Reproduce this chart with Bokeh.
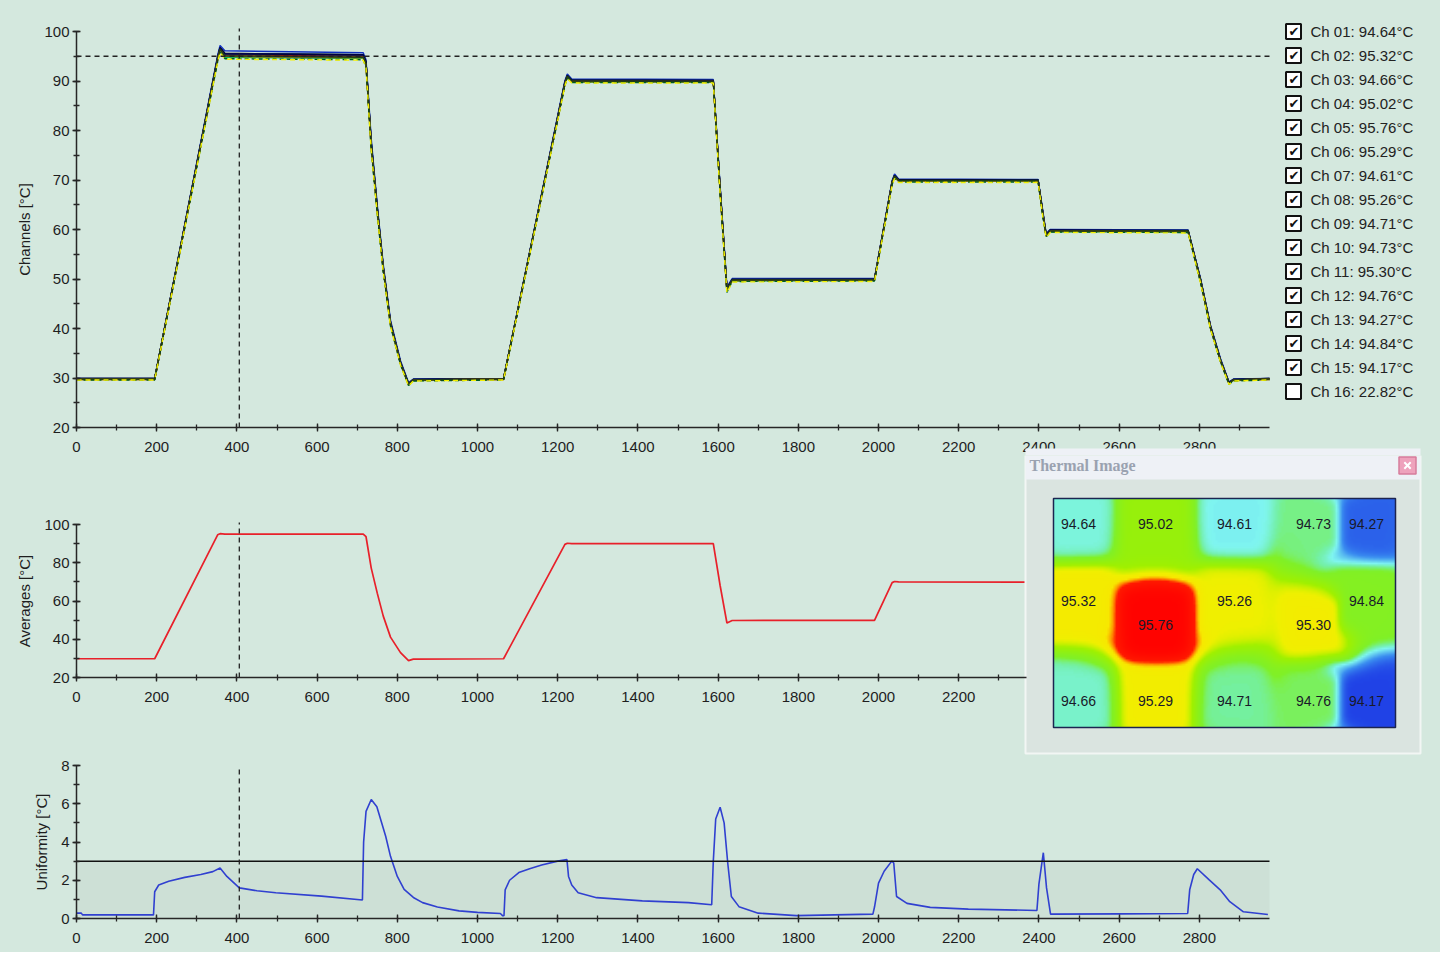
import numpy as np
from bokeh.plotting import figure
from bokeh.layouts import column
from bokeh.models import Range1d, SingleIntervalTicker, BoxAnnotation, LinearColorMapper
from bokeh.core.properties import value
from bokeh.embed import file_html
from bokeh.resources import INLINE

# ---------------- data ----------------
T = [0, 195, 352, 358, 370, 715, 722, 735, 750, 765, 783, 808, 828, 840, 1065, 1218, 1224, 1235,
     1588, 1605, 1622, 1635, 1990, 2034, 2040, 2050, 2398, 2410, 2418, 2428, 2772, 2803, 2828,
     2853, 2874, 2885, 2975]

ch01 = [29.8, 29.8, 94.2, 96.3, 94.9, 94.6, 93.2, 76.5, 63.6, 51.8, 40.8, 32.9, 28.7, 29.6, 29.8, 89.3, 90.8, 89.9, 89.8, 67.6, 47.6, 49.7, 49.8, 69.3, 70.6, 69.8, 69.8, 62.8, 58.7, 59.7, 59.6, 49.5, 40.0, 33.4, 28.9, 29.6, 29.8]
ch02 = [29.9, 29.9, 94.8, 96.8, 95.6, 95.3, 93.9, 77.6, 64.5, 52.4, 41.3, 33.2, 28.9, 29.7, 29.9, 89.8, 91.2, 90.2, 90.1, 68.4, 48.1, 49.9, 50.0, 69.7, 71.0, 70.1, 70.0, 63.3, 59.0, 59.9, 59.8, 49.9, 40.4, 33.7, 29.1, 29.7, 29.9]
ch03 = [29.7, 29.7, 94.3, 96.2, 94.9, 94.7, 93.3, 76.8, 63.8, 51.9, 40.9, 32.9, 28.6, 29.5, 29.7, 89.4, 90.9, 89.9, 89.8, 67.8, 47.7, 49.6, 49.7, 69.4, 70.7, 69.8, 69.7, 62.9, 58.6, 59.6, 59.5, 49.6, 40.1, 33.4, 28.9, 29.5, 29.7]
ch04 = [29.8, 29.8, 94.6, 96.6, 95.3, 95.0, 93.6, 77.2, 64.1, 52.1, 41.1, 33.0, 28.8, 29.6, 29.8, 89.6, 91.0, 90.0, 90.0, 68.1, 47.9, 49.8, 49.9, 69.6, 70.8, 70.0, 69.9, 63.1, 58.8, 59.8, 59.7, 49.8, 40.3, 33.5, 29.0, 29.6, 29.8]
ch05 = [29.9, 29.9, 95.2, 97.2, 96.1, 95.7, 94.3, 78.3, 65.0, 52.9, 41.7, 33.5, 29.1, 29.8, 29.9, 90.1, 91.4, 90.4, 90.3, 68.8, 48.4, 50.1, 50.1, 69.9, 71.2, 70.2, 70.1, 63.6, 59.2, 60.0, 59.9, 50.1, 40.6, 33.9, 29.2, 29.8, 29.9]
ch06 = [29.8, 29.8, 94.7, 96.7, 95.5, 95.3, 93.8, 77.5, 64.4, 52.3, 41.2, 33.1, 28.9, 29.7, 29.8, 89.7, 91.1, 90.2, 90.1, 68.3, 48.0, 49.9, 50.0, 69.6, 70.9, 70.0, 70.0, 63.2, 58.9, 59.8, 59.8, 49.9, 40.3, 33.6, 29.0, 29.7, 29.8]
ch07 = [29.7, 29.7, 94.1, 96.1, 94.8, 94.6, 93.1, 76.4, 63.5, 51.7, 40.7, 32.8, 28.6, 29.5, 29.7, 89.3, 90.7, 89.8, 89.8, 67.5, 47.5, 49.6, 49.7, 69.3, 70.5, 69.8, 69.7, 62.7, 58.6, 59.6, 59.5, 49.5, 40.0, 33.3, 28.8, 29.5, 29.7]
ch08 = [29.8, 29.8, 94.7, 96.7, 95.5, 95.2, 93.8, 77.4, 64.3, 52.3, 41.2, 33.1, 28.8, 29.7, 29.8, 89.7, 91.1, 90.1, 90.1, 68.3, 48.0, 49.9, 49.9, 69.6, 70.9, 70.0, 69.9, 63.2, 58.9, 59.8, 59.7, 49.8, 40.3, 33.6, 29.0, 29.7, 29.8]
ch09 = [29.7, 29.7, 94.3, 96.3, 95.0, 94.7, 93.3, 76.8, 63.8, 51.9, 40.9, 32.9, 28.7, 29.6, 29.7, 89.4, 90.9, 89.9, 89.9, 67.8, 47.7, 49.7, 49.8, 69.4, 70.6, 69.8, 69.8, 62.9, 58.7, 59.7, 59.6, 49.6, 40.1, 33.4, 28.9, 29.6, 29.7]
ch10 = [29.8, 29.8, 94.3, 96.4, 95.0, 94.7, 93.4, 76.9, 63.9, 51.9, 40.9, 32.9, 28.7, 29.6, 29.8, 89.4, 90.9, 89.9, 89.9, 67.9, 47.7, 49.7, 49.8, 69.4, 70.7, 69.9, 69.8, 62.9, 58.7, 59.7, 59.6, 49.6, 40.1, 33.4, 28.9, 29.6, 29.8]
ch11 = [29.9, 29.9, 94.8, 96.8, 95.5, 95.3, 93.9, 77.5, 64.4, 52.4, 41.3, 33.2, 28.9, 29.7, 29.9, 89.8, 91.1, 90.2, 90.1, 68.4, 48.1, 49.9, 50.0, 69.7, 70.9, 70.1, 70.0, 63.3, 59.0, 59.9, 59.8, 49.9, 40.4, 33.6, 29.1, 29.7, 29.9]
ch12 = [29.8, 29.8, 94.4, 96.4, 95.0, 94.8, 93.4, 76.9, 63.9, 52.0, 41.0, 33.0, 28.7, 29.6, 29.8, 89.5, 90.9, 89.9, 89.9, 67.9, 47.8, 49.7, 49.8, 69.5, 70.7, 69.9, 69.8, 63.0, 58.7, 59.7, 59.6, 49.7, 40.2, 33.5, 28.9, 29.6, 29.8]
ch13 = [29.6, 29.6, 93.9, 95.9, 94.5, 94.3, 92.8, 76.0, 63.2, 51.4, 40.5, 32.7, 28.5, 29.4, 29.6, 89.1, 90.6, 89.7, 89.7, 67.2, 47.3, 49.5, 49.6, 69.1, 70.4, 69.6, 69.6, 62.5, 58.5, 59.5, 59.4, 49.3, 39.9, 33.2, 28.7, 29.4, 29.6]
ch14 = [29.8, 29.8, 94.4, 96.5, 95.1, 94.8, 93.5, 77.0, 64.0, 52.0, 41.0, 33.0, 28.8, 29.6, 29.8, 89.5, 91.0, 90.0, 89.9, 68.0, 47.8, 49.8, 49.8, 69.5, 70.8, 69.9, 69.9, 63.0, 58.8, 59.7, 59.7, 49.7, 40.2, 33.5, 29.0, 29.6, 29.8]
ch15 = [29.6, 29.6, 93.8, 95.8, 94.4, 94.2, 92.7, 75.9, 63.1, 51.3, 40.4, 32.6, 28.4, 29.4, 29.6, 89.0, 90.5, 89.6, 89.6, 67.1, 47.2, 49.4, 49.5, 69.0, 70.3, 69.5, 69.5, 62.4, 58.4, 59.4, 59.3, 49.2, 39.8, 33.1, 28.7, 29.4, 29.6]

avg = [29.8, 29.8, 94.6, 95.2, 95.0, 95.0, 93.6, 77.2, 64.1, 52.1, 41.1, 33.0, 28.8, 29.6, 29.8, 89.6, 90.2, 90.0, 90.0, 68.1, 48.5, 49.8, 49.9, 69.6, 70.2, 70.0, 69.9, 63.1, 59.5, 59.8, 59.7, 49.8, 40.3, 33.5, 29.2, 29.6, 29.8]

U_T = [0, 12, 15, 192, 195, 205, 230, 270, 310, 340, 358, 375, 406, 450, 497, 611, 713, 716, 722, 735,
       749, 771, 783, 800, 817, 840, 863, 900, 954, 1000, 1057, 1063, 1066, 1069, 1080, 1103, 1130,
       1160, 1200, 1223, 1227, 1235, 1251, 1297, 1411, 1526, 1584, 1588, 1594, 1605, 1615, 1624, 1633,
       1652, 1700, 1795, 1986, 1990, 2000, 2014, 2033, 2038, 2045, 2071, 2129, 2224, 2395, 2400, 2411,
       2419, 2429, 2605, 2771, 2776, 2786, 2795, 2824, 2852, 2876, 2910, 2971]
U_V = [0.28, 0.28, 0.19, 0.19, 1.4, 1.75, 1.95, 2.15, 2.3, 2.45, 2.64, 2.2, 1.6, 1.45, 1.35, 1.17, 0.97, 4.0, 5.6, 6.22,
       5.84, 4.3, 3.25, 2.2, 1.52, 1.1, 0.83, 0.6, 0.4, 0.32, 0.26, 0.14, 0.14, 1.5, 2.0, 2.4, 2.6,
       2.8, 3.0, 3.08, 2.2, 1.75, 1.35, 1.09, 0.92, 0.83, 0.72, 3.0, 5.2, 5.82, 5.0, 2.9, 1.15,
       0.62, 0.28, 0.15, 0.23, 0.6, 1.85, 2.47, 3.0, 2.9, 1.15, 0.79, 0.58, 0.49, 0.42, 1.8, 3.44,
       1.6, 0.23, 0.24, 0.26, 1.5, 2.3, 2.6, 2.03, 1.5, 0.88, 0.35, 0.21]

ch_names = ["Ch 01", "Ch 02", "Ch 03", "Ch 04", "Ch 05", "Ch 06", "Ch 07", "Ch 08",
            "Ch 09", "Ch 10", "Ch 11", "Ch 12", "Ch 13", "Ch 14", "Ch 15", "Ch 16"]
ch_values = [94.64, 95.32, 94.66, 95.02, 95.76, 95.29, 94.61, 95.26,
             94.71, 94.73, 95.30, 94.76, 94.27, 94.84, 94.17, 22.82]
ch_checked = [True] * 15 + [False]

t_end = 2975            # end of the recorded run (s)
avg_visible_end = 2368  # part of the averages axis not hidden by the thermal window
cursor_t = 406
setpoint = 95
uniformity_limit = 3

# thermal sensor grid coordinates (image units) for channels 1..15
sensor_x = [25, 25, 25, 102, 102, 102, 181, 181, 181, 260, 260, 260, 313, 313, 313]
sensor_y = [204, 127, 27, 204, 103, 27, 204, 127, 27, 204, 103, 27, 204, 127, 27]

# ---------------- styles ----------------
BG = "#d4e8de"
AX = "#262626"
SANS = "Liberation Sans"
W = 1440
PX = 1193 / t_end                      # pixels per second on the time axes
X_START, X_END = -76 / PX, 1354 / PX    # frame covers the whole figure width

ch_colors = ["#e00000", "#000000", "#ff8040", "#c00000", "#1030c0", "#004080", "#00c060", "#202060",
             "#ff6000", "#30b030", "#000040", "#a06000", "#006020", "#1a3a1a", "#f4f000"]
ch_dash = ["solid"] * 12 + ["4 3", "solid", "5 4"]


def style_axes(p, xint, yint, ylabel, xbounds, ybounds):
    p.xaxis.ticker = SingleIntervalTicker(interval=xint, num_minor_ticks=2)
    p.yaxis.ticker = SingleIntervalTicker(interval=yint, num_minor_ticks=2)
    p.xaxis.bounds = xbounds
    p.yaxis.bounds = ybounds
    p.xaxis.fixed_location = ybounds[0]
    p.yaxis.fixed_location = xbounds[0]
    for ax in (p.xaxis[0], p.yaxis[0]):
        ax.axis_line_color = AX
        ax.axis_line_width = 1.5
        ax.major_tick_line_color = AX
        ax.minor_tick_line_color = AX
        ax.major_tick_line_width = 1.3
        ax.minor_tick_line_width = 1.3
        ax.major_tick_in = 4
        ax.major_tick_out = 4
        ax.minor_tick_in = 3
        ax.minor_tick_out = 3
        ax.major_label_text_font = SANS
        ax.major_label_text_font_size = "15px"
        ax.major_label_text_color = "#1e1e1e"
    p.xaxis.major_label_standoff = 10
    p.yaxis.major_label_standoff = 3
    p.yaxis.axis_label = ylabel
    p.yaxis.axis_label_standoff = 8
    p.yaxis.axis_label_text_font = SANS
    p.yaxis.axis_label_text_font_size = "15px"
    p.yaxis.axis_label_text_font_style = "normal"
    p.yaxis.axis_label_text_color = "#1e1e1e"
    p.grid.visible = False


def make_fig(h, yr):
    return figure(width=W, height=h, x_range=Range1d(X_START, X_END), y_range=yr, output_backend="svg",
                  toolbar_location=None, background_fill_color=BG, border_fill_color=BG,
                  outline_line_color=None, min_border_left=0, min_border_right=10,
                  min_border_top=0, min_border_bottom=0)


# ---------------- top: channels + channel list ----------------
top = make_fig(455, Range1d(20 - 28 / 4.95, 100 + 31 / 4.95))
style_axes(top, 200, 10, "Channels [°C]", (0, t_end), (20, 100))
channels = [ch01, ch02, ch03, ch04, ch05, ch06, ch07, ch08, ch09, ch10, ch11, ch12, ch13, ch14, ch15]
for ys, c, dsh in zip(channels, ch_colors, ch_dash):
    top.line(T, ys, line_color=c, line_width=1.4, line_dash=dsh)
top.line([0, t_end], [setpoint, setpoint], line_color="#222222", line_dash="5 4", line_width=1.3)
top.line([cursor_t, cursor_t], [20, 100.6], line_color="#222222", line_dash="5 4", line_width=1.3)

top.extra_x_ranges = {"lgx": Range1d(-1275, 1430 - 1275), "thx": Range1d(-1053, 1430 - 1053)}
top.extra_y_ranges = {"lgy": Range1d(1 + 424 / 24, 1 - 31 / 24), "thy": Range1d(272, 727)}
idx = list(range(1, len(ch_names) + 1))
top.scatter(x=[18] * len(idx), y=idx, marker="square", size=15, fill_color="white",
            line_color="#111111", line_width=2, x_range_name="lgx", y_range_name="lgy")
chk_idx = [i for i, c in zip(idx, ch_checked) if c]
top.text(x=[18.5] * len(chk_idx), y=chk_idx, text=["✔"] * len(chk_idx), text_align="center",
         text_baseline="middle", text_font=value("DejaVu Sans"), text_font_size="13px",
         text_color="#111111", x_range_name="lgx", y_range_name="lgy")
leg_labels = [f"{n}: {v:.2f}°C" for n, v in zip(ch_names, ch_values)]
top.text(x=[35] * len(idx), y=idx, text=leg_labels, text_align="left", text_baseline="middle",
         text_font=value(SANS), text_font_size="15px", text_color="#222222",
         x_range_name="lgx", y_range_name="lgy")
# top edge of the thermal-image window, which covers part of the time labels
top.add_layout(BoxAnnotation(left=-28, right=367, bottom=272, top=279, fill_color="#eef1f6",
                             fill_alpha=1.0, line_color=None, level="overlay",
                             x_range_name="thx", y_range_name="thy"))

# ---------------- middle: averages + thermal image window ----------------
mid = make_fig(300, Range1d(20 - 78 / 1.9125, 100 + 69 / 1.9125))
style_axes(mid, 200, 20, "Averages [°C]", (0, avg_visible_end), (20, 100))
mid.line(T, avg, line_color="#e8202a", line_width=1.7)
mid.line([cursor_t, cursor_t], [20, 101], line_color="#222222", line_dash="5 4", line_width=1.3)

mid.extra_x_ranges = {"thx": Range1d(-1053, 1430 - 1053)}
mid.extra_y_ranges = {"thy": Range1d(-28, 272)}
TH = dict(x_range_name="thx", y_range_name="thy")
mid.quad(left=-28, right=367, bottom=-26, top=272, fill_color="#dae4e0", line_color="#f2f6f4", line_width=2, **TH)
mid.quad(left=-28, right=367, bottom=248, top=272, fill_color="#eef1f6", line_color=None, **TH)
mid.text(x=[-24], y=[262], text=["Thermal Image"], text_align="left", text_baseline="middle",
         text_font=value("Liberation Serif"), text_font_style="bold", text_font_size="16px",
         text_color="#9aa2b0", **TH)
mid.scatter(x=[354], y=[262], marker="square", size=17, fill_color="#eea2bc", line_color="#d67c9c", line_width=1.5, **TH)
mid.scatter(x=[354], y=[262], marker="x", size=9, line_color="white", line_width=2, **TH)

# heat map from the 15 sensor readings (inverse-distance weighting)
sens_v = np.array(ch_values[:15])
gx = np.linspace(1, 341, 171)
gy = np.linspace(0.5, 228.5, 115)
GX, GY = np.meshgrid(gx, gy)
sx = np.array(sensor_x, float)[:, None, None]
sy = np.array(sensor_y, float)[:, None, None]
dist = (np.abs(GX - sx) ** 6 + np.abs(GY - sy) ** 6) ** (1 / 6)
wts = 1.0 / (dist ** 5 + 1e-3)
heat = (wts * sens_v[:, None, None]).sum(0) / wts.sum(0)

anch_v = [94.15, 94.40, 94.62, 94.70, 94.80, 95.10, 95.26, 95.36, 95.43, 95.50, 95.80]
anch_c = ["#1e3ce6", "#3a8cf0", "#80f6f0", "#74f0a8", "#80f028", "#a0f000", "#f0f000", "#f8e800",
          "#ff9000", "#ff1a00", "#ff0000"]


def hex2rgb(h):
    return [int(h[i:i + 2], 16) for i in (1, 3, 5)]


levels = np.linspace(anch_v[0], anch_v[-1], 256)
rgb = np.array([hex2rgb(c) for c in anch_c], float)
palette = []
for lv in levels:
    r = np.interp(lv, anch_v, rgb[:, 0])
    g = np.interp(lv, anch_v, rgb[:, 1])
    b = np.interp(lv, anch_v, rgb[:, 2])
    palette.append("#%02x%02x%02x" % (int(r), int(g), int(b)))
mapper = LinearColorMapper(palette=palette, low=anch_v[0], high=anch_v[-1])
mid.image(image=[heat], x=0, y=0, dw=342, dh=229, color_mapper=mapper, **TH)
mid.quad(left=0, right=342, bottom=0, top=229, fill_color=None, line_color="#1c2450", line_width=1.5, **TH)
mid.text(x=sensor_x, y=sensor_y, text=[f"{v:.2f}" for v in sens_v], text_align="center",
         text_baseline="middle", text_font=value(SANS), text_font_size="14px", text_color="#1a1a2a", **TH)

# ---------------- bottom: uniformity ----------------
bot = make_fig(197, Range1d(0 - 34 / 19.125, 8 + 10 / 19.125))
style_axes(bot, 200, 2, "Uniformity [°C]", (0, t_end), (0, 8))
bot.add_layout(BoxAnnotation(left=0, right=t_end, bottom=0, top=uniformity_limit,
                             fill_color="#b8c8c0", fill_alpha=0.25, line_color=None, level="underlay"))
bot.line(U_T, U_V, line_color="#3040d0", line_width=1.6)
bot.line([0, t_end], [uniformity_limit, uniformity_limit], line_color="#111111", line_width=1.5)
bot.line([cursor_t, cursor_t], [0, 8], line_color="#222222", line_dash="5 4", line_width=1.3)

layout = column(top, mid, bot, styles={"background-color": BG})
open("out.html", "w").write(file_html(layout, INLINE))
